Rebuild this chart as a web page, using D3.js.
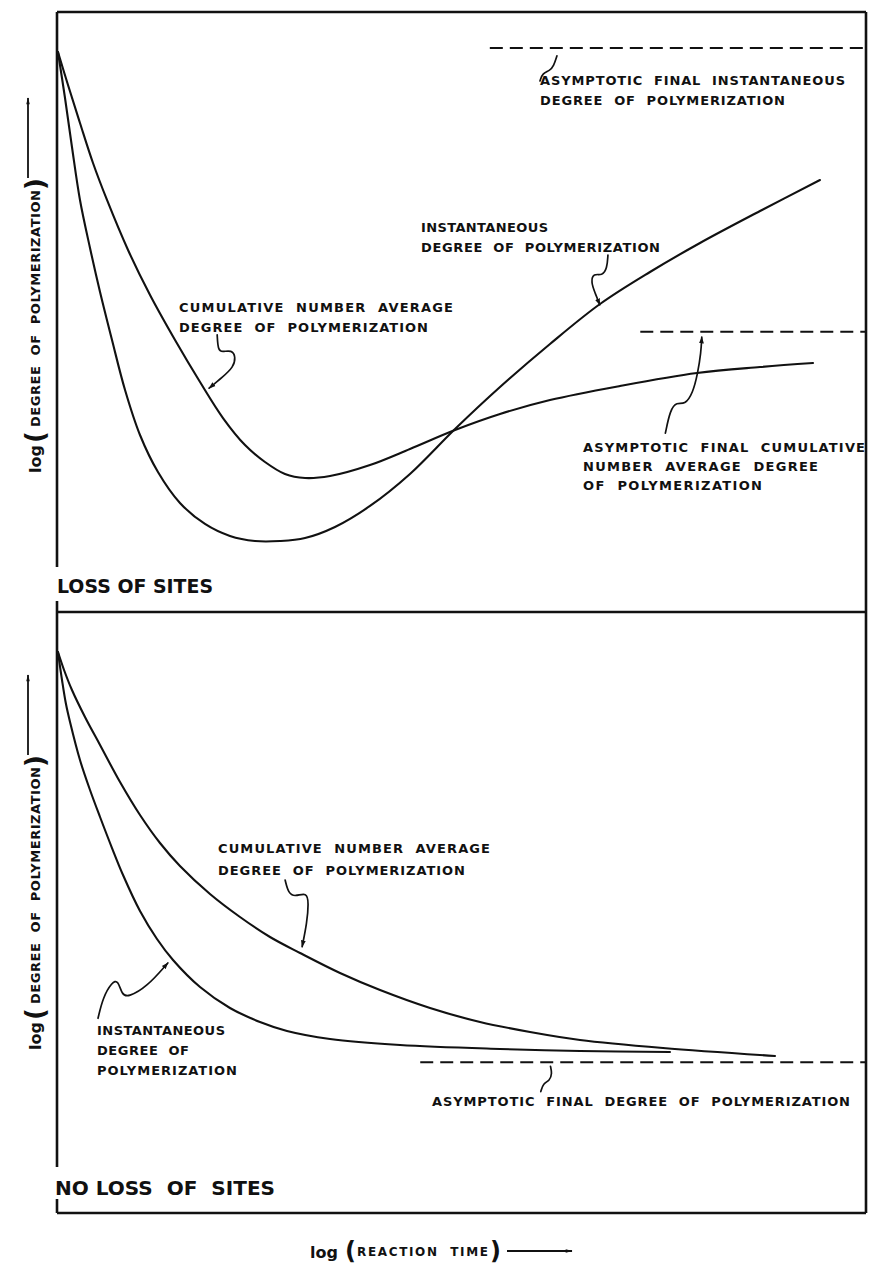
<!DOCTYPE html>
<html>
<head>
<meta charset="utf-8">
<script src="https://cdn.jsdelivr.net/npm/d3@7"></script>
<style>
  body { margin: 0; background: #fff; }
  text { font-family: "DejaVu Sans", "Liberation Sans", sans-serif; font-weight: bold; fill: #111; }
</style>
</head>
<body>
<svg id="chart" width="869" height="1268"></svg>
<script>
// ---- series: [log reaction time, log degree of polymerization] (arbitrary units 0..100) ----
const lossInstantaneous = [[0.12,93.33],[0.99,85.67],[1.85,77.5],[2.84,68.67],[4.08,60.67],[5.32,53.33],[6.8,45.33],[8.41,37.0],[10.26,29.5],[12.48,23.33],[15.2,18.17],[18.29,14.67],[21.38,12.67],[24.47,11.83],[27.56,11.83],[30.66,12.33],[34.36,14.17],[38.69,17.67],[43.63,23.0],[49.2,30.5],[54.76,37.5],[60.94,44.67],[67.12,51.33],[73.3,56.67],[79.48,61.5],[86.9,66.83],[94.31,72.0]];
const lossCumulative = [[0.12,93.33],[1.36,87.83],[2.84,81.5],[4.45,74.83],[6.18,68.67],[8.78,60.33],[11.5,52.83],[14.59,45.33],[17.68,38.33],[20.52,32.33],[23.24,27.83],[25.71,25.0],[28.18,23.0],[30.66,22.33],[33.75,22.67],[38.69,24.5],[43.63,27.17],[49.2,30.33],[54.76,33.0],[60.94,35.33],[69.59,37.67],[79.11,39.83],[86.9,40.83],[93.45,41.5]];
const noLossInstantaneous = [[0.12,93.34],[0.62,88.69],[1.11,84.69],[1.61,81.7],[2.84,75.37],[4.08,70.38],[5.32,65.89],[6.8,60.73],[8.16,56.24],[10.26,50.25],[12.36,45.59],[14.34,42.1],[17.68,37.6],[21.38,34.11],[25.09,31.78],[28.43,30.28],[33.75,28.95],[42.4,27.95],[54.76,27.29],[64.65,26.96],[75.77,26.79]];
const noLossCumulative = [[0.12,93.34],[0.87,90.35],[1.85,87.02],[3.46,82.53],[5.32,77.87],[7.79,71.71],[10.26,66.22],[12.73,61.56],[15.2,57.74],[18.91,53.08],[22.62,49.25],[26.33,45.92],[30.04,43.26],[34.98,39.93],[39.93,37.1],[46.11,34.11],[52.29,31.78],[58.47,30.12],[64.65,28.79],[74.91,27.45],[88.75,26.12]];

// asymptotes: [level, start of dashed line on the time axis]
const lossAsymInstantaneous = [94.0, 53.5];
const lossAsymCumulative = [46.7, 72.1];
const noLossAsym = [25.1, 44.9];

// hand-drawn leader strokes (same units as the series), arrow at the last point when flagged
const lossLeaders = [
  { pts: [[19.8,46.2],[19.9,43.7],[20.4,43.3],[21.6,43.7],[22.1,42.5],[21.8,40.8],[20.5,39.2],[18.8,37.3]], arrow: true },
  { pts: [[68.1,59.5],[68.0,57.3],[67.4,56.0],[66.3,56.5],[66.0,55.0],[66.5,53.2],[67.1,51.2]], arrow: true },
  { pts: [[75.2,29.8],[75.8,33.7],[76.6,35.0],[77.6,34.5],[78.6,36.5],[79.2,39.8],[79.6,43.2],[79.7,45.8]], arrow: true },
  { pts: [[59.7,88.5],[60.0,89.8],[60.9,90.2],[61.4,91.0],[61.8,92.7]], arrow: false }
];
const noLossLeaders = [
  { pts: [[28.2,55.4],[28.6,53.2],[29.4,52.6],[30.9,53.4],[31.1,51.6],[30.9,48.3],[30.3,44.3]], arrow: true },
  { pts: [[5.07,32.4],[5.69,35.9],[6.80,38.4],[7.54,38.8],[8.03,36.3],[8.78,35.9],[11.1,37.6],[13.7,41.6]], arrow: true },
  { pts: [[59.8,20.2],[60.1,21.6],[60.9,22.0],[61.2,23.2],[61.0,24.4]], arrow: false }
];

// ---- text ----
const lossLabels = [
  { lines: ["ASYMPTOTIC  FINAL  INSTANTANEOUS", "DEGREE  OF  POLYMERIZATION"], x: 540, y: 85, w: [305, 245] },
  { lines: ["INSTANTANEOUS", "DEGREE  OF  POLYMERIZATION"], x: 421, y: 232, w: [127, 239] },
  { lines: ["CUMULATIVE  NUMBER  AVERAGE", "DEGREE  OF  POLYMERIZATION"], x: 179, y: 312, w: [274, 249] },
  { lines: ["ASYMPTOTIC  FINAL  CUMULATIVE", "NUMBER  AVERAGE  DEGREE", "OF  POLYMERIZATION"], x: 583, y: 452, w: [282, 235, 179], gap: 19 }
];
const noLossLabels = [
  { lines: ["CUMULATIVE  NUMBER  AVERAGE", "DEGREE  OF  POLYMERIZATION"], x: 218, y: 853, w: [272, 247], gap: 22 },
  { lines: ["INSTANTANEOUS", "DEGREE  OF", "POLYMERIZATION"], x: 97, y: 1035, w: [128, 92, 140] },
  { lines: ["ASYMPTOTIC  FINAL  DEGREE  OF  POLYMERIZATION"], x: 432, y: 1106, w: [418] }
];
const panelTitles = ["LOSS OF SITES", "NO LOSS  OF  SITES"];
const yAxisWords = ["log", "DEGREE  OF  POLYMERIZATION"];
const xAxisWords = ["log", "REACTION  TIME"];

// ---- drawing ----
const svg = d3.select("#chart");
const x = d3.scaleLinear().domain([0, 100]).range([57, 866]);
const yTop = d3.scaleLinear().domain([0, 100]).range([612, 12]);
const yBot = d3.scaleLinear().domain([0, 100]).range([1213, 612]);

const defs = svg.append("defs");
defs.append("marker").attr("id", "head").attr("viewBox", "0 0 10 10")
  .attr("refX", 9).attr("refY", 5).attr("markerWidth", 7).attr("markerHeight", 7)
  .attr("orient", "auto-start-reverse").attr("markerUnits", "userSpaceOnUse")
  .append("path").attr("d", "M0,1.5 L10,5 L0,8.5 Z").attr("fill", "#111");
defs.append("marker").attr("id", "axhead").attr("viewBox", "0 0 10 10")
  .attr("refX", 9).attr("refY", 5).attr("markerWidth", 9).attr("markerHeight", 7)
  .attr("orient", "auto").attr("markerUnits", "userSpaceOnUse")
  .append("path").attr("d", "M0,2.5 L10,5 L0,7.5 Z").attr("fill", "#111");

// frame
const frame = svg.append("g").attr("stroke", "#111").attr("stroke-width", 2.6).attr("fill", "none");
frame.append("line").attr("x1", x(0)).attr("x2", x(100)).attr("y1", yTop(100)).attr("y2", yTop(100));
frame.append("line").attr("x1", x(0)).attr("x2", x(100)).attr("y1", yTop(0)).attr("y2", yTop(0));
frame.append("line").attr("x1", x(0)).attr("x2", x(100)).attr("y1", yBot(0)).attr("y2", yBot(0));
frame.append("line").attr("x1", x(100)).attr("x2", x(100)).attr("y1", yTop(100)).attr("y2", yBot(0));
// left edge, interrupted by the panel titles
frame.append("line").attr("x1", x(0)).attr("x2", x(0)).attr("y1", yTop(100)).attr("y2", 567);
frame.append("line").attr("x1", x(0)).attr("x2", x(0)).attr("y1", 601).attr("y2", 1167);
frame.append("line").attr("x1", x(0)).attr("x2", x(0)).attr("y1", 1199).attr("y2", yBot(0));

function panel(ys, series, asyms, leaders, labels) {
  const g = svg.append("g");
  const line = d3.line().x(d => x(d[0])).y(d => ys(d[1])).curve(d3.curveCatmullRom.alpha(0.5));
  series.forEach(s => {
    g.append("path").attr("d", line(s)).attr("fill", "none")
      .attr("stroke", "#111").attr("stroke-width", 2.1).attr("stroke-linecap", "round");
  });
  asyms.forEach(a => {
    g.append("line").attr("x1", x(a[1])).attr("x2", x(100)).attr("y1", ys(a[0])).attr("y2", ys(a[0]))
      .attr("stroke", "#111").attr("stroke-width", 2).attr("stroke-dasharray", "13 7");
  });
  const lead = d3.line().x(d => x(d[0])).y(d => ys(d[1])).curve(d3.curveBasis);
  leaders.forEach(l => {
    const p = g.append("path").attr("d", lead(l.pts)).attr("fill", "none")
      .attr("stroke", "#111").attr("stroke-width", 1.7).attr("stroke-linecap", "round");
    if (l.arrow) p.attr("marker-end", "url(#head)");
  });
  labels.forEach(lb => {
    lb.lines.forEach((t, i) => {
      g.append("text").attr("x", lb.x).attr("y", lb.y + i * (lb.gap || 20))
        .attr("font-size", 13).attr("textLength", lb.w[i]).attr("lengthAdjust", "spacing")
        .style("white-space", "pre").text(t);
    });
  });
}

panel(yTop, [lossCumulative, lossInstantaneous], [lossAsymInstantaneous, lossAsymCumulative], lossLeaders, lossLabels);
panel(yBot, [noLossCumulative, noLossInstantaneous], [noLossAsym], noLossLeaders, noLossLabels);

// panel titles
svg.append("text").attr("x", 57).attr("y", 593).attr("font-size", 19).attr("textLength", 156)
  .attr("lengthAdjust", "spacingAndGlyphs").text(panelTitles[0]);
svg.append("text").attr("x", 55).attr("y", 1195).attr("font-size", 19).attr("textLength", 220)
  .attr("lengthAdjust", "spacingAndGlyphs").style("white-space", "pre").text(panelTitles[1]);

// vertical axis titles, read bottom to top
function yTitle(originY) {
  const g = svg.append("g").attr("transform", `translate(41,${originY}) rotate(-90)`);
  g.append("text").attr("x", 0).attr("y", 0).attr("font-size", 16).text(yAxisWords[0]);
  g.append("text").attr("x", 30).attr("y", 3).attr("font-size", 26).attr("font-weight", "normal").text("(");
  g.append("text").attr("x", 46).attr("y", -1).attr("font-size", 13).attr("textLength", 237)
    .attr("lengthAdjust", "spacing").style("white-space", "pre").text(yAxisWords[1]);
  g.append("text").attr("x", 283).attr("y", 3).attr("font-size", 26).attr("font-weight", "normal").text(")");
  g.append("line").attr("x1", 295).attr("x2", 375).attr("y1", -13).attr("y2", -13)
    .attr("stroke", "#111").attr("stroke-width", 1.8).attr("marker-end", "url(#axhead)");
}
yTitle(473);
yTitle(1050);

// horizontal axis title
const xt = svg.append("g");
xt.append("text").attr("x", 310).attr("y", 1258).attr("font-size", 16).text(xAxisWords[0]);
xt.append("text").attr("x", 345).attr("y", 1259).attr("font-size", 24).attr("font-weight", "normal").text("(");
xt.append("text").attr("x", 357).attr("y", 1256).attr("font-size", 12).attr("textLength", 131)
  .attr("lengthAdjust", "spacing").style("white-space", "pre").text(xAxisWords[1]);
xt.append("text").attr("x", 490).attr("y", 1259).attr("font-size", 24).attr("font-weight", "normal").text(")");
xt.append("line").attr("x1", 507).attr("x2", 572).attr("y1", 1251).attr("y2", 1251)
  .attr("stroke", "#111").attr("stroke-width", 1.8).attr("marker-end", "url(#axhead)");
</script>
</body>
</html>
